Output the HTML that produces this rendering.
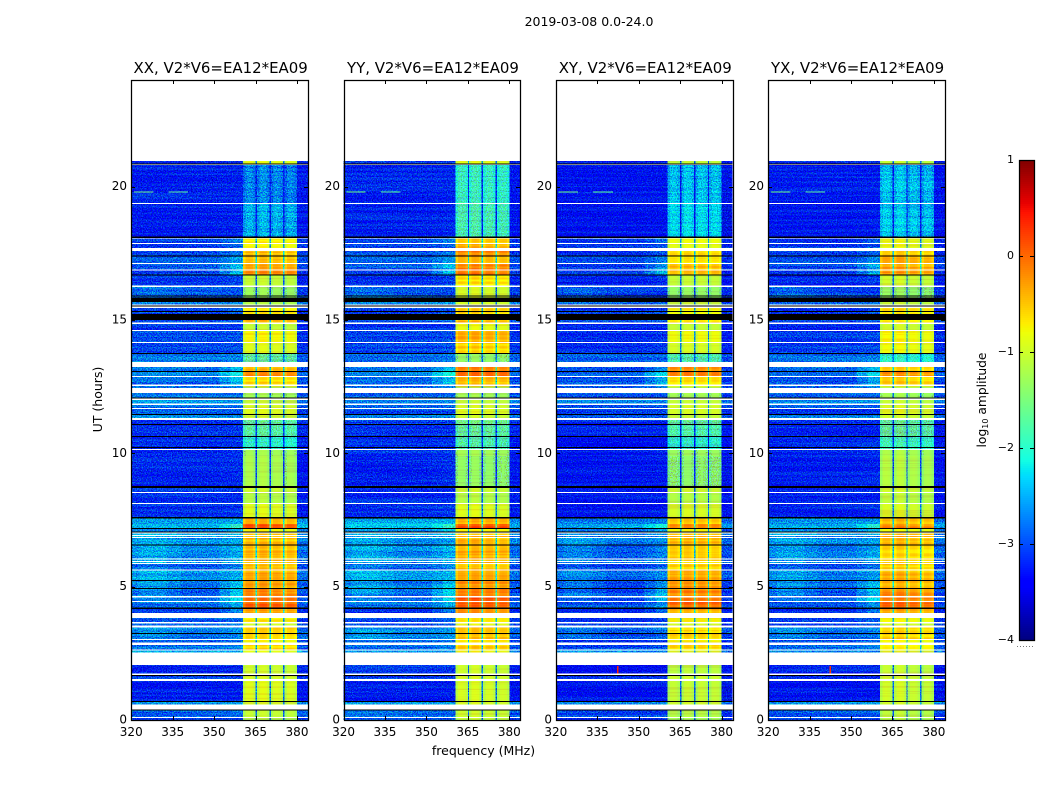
<!DOCTYPE html>
<html>
<head>
<meta charset="utf-8">
<title>2019-03-08 0.0-24.0</title>
<style>
html,body{margin:0;padding:0;background:#fff;}
svg{display:block;}
text{font-family:"DejaVu Sans","Liberation Sans",sans-serif;fill:#000;}
</style>
</head>
<body>
<svg id="chart" xmlns="http://www.w3.org/2000/svg" width="1050" height="800" viewBox="0 0 1050 800">
<defs>
<filter id="speckle" filterUnits="userSpaceOnUse" x="120" y="150" width="840" height="580" color-interpolation-filters="sRGB">
<feTurbulence type="fractalNoise" baseFrequency="0.8" numOctaves="2" seed="7" result="n"/>
<feColorMatrix in="n" type="matrix" values="0 0 0 0 0.5  3 0 0 0 -1  0 3 0 0 -1  0 0 0 0 1" result="c"/>
<feComposite in="SourceGraphic" in2="c" operator="arithmetic" k1="0" k2="1" k3="0.6" k4="-0.3" result="mixed"/>
<feComposite in="mixed" in2="SourceAlpha" operator="in"/>
</filter>
<filter id="streak" filterUnits="userSpaceOnUse" x="120" y="150" width="840" height="580" color-interpolation-filters="sRGB">
<feTurbulence type="fractalNoise" baseFrequency="0.004 0.45" numOctaves="2" seed="11" result="n"/>
<feColorMatrix in="n" type="matrix" values="0 0 0 0 0.5  3 0 0 0 -1  0 0 0 0 0.5  0 0 0 0 1" result="c"/>
<feComposite in="SourceGraphic" in2="c" operator="arithmetic" k1="0" k2="1" k3="0.2" k4="-0.1" result="mixed"/>
<feComposite in="mixed" in2="SourceAlpha" operator="in"/>
</filter>
</defs>
<text x="589" y="26" font-size="12.5" text-anchor="middle">2019-03-08 0.0-24.0</text>
<text x="483.5" y="755" font-size="12.5" text-anchor="middle">frequency (MHz)</text>
<text transform="translate(102,399.5) rotate(-90)" font-size="12.5" text-anchor="middle">UT (hours)</text>
<text transform="translate(986,400) rotate(-90)" font-size="12.3" text-anchor="middle">log<tspan font-size="8" dy="2">10</tspan><tspan dy="-2"> amplitude</tspan></text>
</svg>
<script>
// Categories
const panelTitles = ['XX, V2*V6=EA12*EA09', 'YY, V2*V6=EA12*EA09', 'XY, V2*V6=EA12*EA09', 'YX, V2*V6=EA12*EA09'];
const xTicks = [320, 335, 350, 365, 380];
const yTicks = [0, 5, 10, 15, 20];
const colorTicks = [-4, -3, -2, -1, 0, 1];

// Upper edge (UT hours) of each observed row, bottom to top
const rowTopHour = [
0.09,0.375,0.675,1.46,1.65,2.06,2.61,2.81,3.00,3.23,
3.47,3.62,3.83,4.16,4.43,4.59,4.91,5.21,5.61,5.85,
6.54,7.03,7.16,7.35,7.56,8.10,8.51,8.70,9.90,10.13,
10.61,11.06,11.25,11.44,11.66,11.81,12.00,12.26,12.51,12.86,
13.05,13.24,13.73,14.14,14.59,14.85,15.00,15.45,15.68,16.24,
16.67,16.86,17.10,17.38,17.59,17.85,18.06,19.35,20.81,20.96];

// log10 amplitude, outside the strong band
const leftLevel = [
-2.9,-2.75,-2.4,-3.15,-2.95,-3.05,-2.4,-2.7,-2.8,-2.55,
-2.45,-2.8,-2.85,-3.0,-2.7,-2.6,-2.5,-2.45,-2.35,-2.65,
-2.4,-2.35,-2.5,-2.3,-2.45,-3.05,-3.05,-3.0,-3.1,-3.05,
-3.05,-3.0,-2.95,-2.6,-2.85,-2.7,-2.5,-2.7,-2.6,-2.7,
-2.6,-2.65,-2.65,-2.9,-2.9,-3.0,-2.8,-2.9,-2.6,-2.65,
-3.0,-2.9,-2.8,-2.75,-2.9,-2.9,-2.9,-3.15,-3.1,-3.0];
const midLevel = [
-2.9,-2.75,-2.4,-3.15,-2.95,-3.05,-2.4,-2.7,-2.8,-2.7,
-2.6,-2.8,-2.85,-3.0,-2.7,-2.7,-2.75,-2.7,-2.55,-2.8,
-2.6,-2.5,-2.6,-2.3,-2.45,-3.05,-3.05,-3.0,-3.1,-3.05,
-3.05,-3.0,-2.95,-2.6,-2.85,-2.7,-2.5,-2.7,-2.6,-2.75,
-2.6,-2.7,-2.65,-2.9,-2.9,-3.0,-2.8,-2.9,-2.6,-2.8,
-3.0,-2.9,-2.8,-2.75,-2.9,-2.9,-2.9,-3.15,-3.1,-3.0];
const edgeLevel = [
-2.9,-2.75,-2.4,-3.15,-2.95,-3.05,-2.4,-2.6,-2.7,-2.6,
-2.5,-2.7,-2.75,-2.6,-2.4,-2.1,-2.2,-2.3,-2.4,-2.6,
-2.4,-2.4,-2.3,-1.8,-2.4,-3.0,-3.05,-3.0,-3.05,-3.0,
-3.0,-3.0,-2.95,-2.6,-2.85,-2.7,-2.5,-2.7,-2.5,-2.3,
-2.0,-2.3,-2.6,-2.85,-2.85,-3.0,-2.7,-2.8,-2.5,-2.85,
-2.9,-2.3,-2.35,-2.5,-2.7,-2.75,-2.65,-3.1,-3.1,-3.0];

// log10 amplitude inside the strong band, one series per polarisation
const bandXX = [
-1.1,-1.0,-0.9,-0.85,-0.9,-0.95,-0.8,-0.55,-0.7,-0.45,
-0.5,-0.9,-0.65,-0.2,0.1,0.05,-0.1,-0.2,-0.3,-0.4,
-0.35,-0.4,-0.7,0.25,-0.3,-0.85,-1.1,-0.95,-1.15,-1.2,
-1.9,-1.65,-1.6,-0.95,-0.85,-0.9,-1.0,-1.2,-1.1,-0.55,
-0.1,-0.4,-1.6,-0.85,-0.7,-1.0,-0.4,-0.6,-1.1,-1.25,
-1.0,-0.1,-0.25,-0.4,-0.35,-0.7,-0.65,-2.45,-2.65,-0.8];
const bandYY = [
-1.0,-0.95,-0.9,-0.9,-0.9,-0.95,-0.75,-0.45,-0.6,-0.35,
-0.4,-0.8,-0.6,-0.15,0.15,0.15,-0.05,-0.15,-0.25,-0.4,
-0.3,-0.35,-0.65,0.2,-0.3,-0.85,-1.1,-0.95,-1.3,-1.2,
-1.7,-1.6,-1.5,-0.95,-0.85,-0.9,-1.0,-1.2,-1.1,-0.35,
0.15,-0.05,-1.3,-0.5,-0.3,-0.8,-0.3,-0.5,-0.9,-0.9,
-0.6,0,-0.05,-0.35,-0.1,-0.3,-0.4,-1.75,-1.85,-0.8];
const bandXY = [
-1.2,-1.1,-0.95,-1.0,-0.95,-1.05,-0.85,-0.55,-0.7,-0.5,
-0.55,-0.9,-0.7,-0.3,0.05,-0.05,-0.1,-0.25,-0.3,-0.5,
-0.5,-0.35,-0.7,0,-0.5,-0.9,-1.1,-0.95,-1.35,-1.25,
-1.9,-1.7,-1.6,-1.0,-0.9,-0.9,-1.0,-1.2,-1.1,-0.55,
0.05,-0.2,-1.7,-0.9,-0.75,-1.0,-0.5,-0.7,-1.0,-1.3,
-1.0,-0.3,-0.4,-0.6,-0.5,-0.8,-0.75,-2.2,-2.35,-1.0];
const bandYX = [
-1.1,-1.05,-0.95,-0.95,-0.95,-1.0,-0.85,-0.6,-0.7,-0.5,
-0.55,-0.9,-0.7,-0.25,0.05,0,-0.15,-0.3,-0.35,-0.5,
-0.5,-0.35,-0.75,-0.1,-0.45,-0.9,-1.05,-0.95,-1.1,-1.15,
-1.8,-1.6,-1.6,-0.95,-0.85,-0.9,-1.0,-1.2,-1.1,-0.5,
-0.15,-0.4,-1.9,-0.75,-0.7,-0.95,-0.6,-0.6,-1.0,-1.3,
-0.95,-0.2,-0.25,-0.3,-0.5,-0.8,-0.8,-2.3,-2.35,-1.0];
const bandSeries = [bandXX, bandYY, bandXY, bandYX];

// Per-panel level adjustments
const panelOffShift = [-0.15, -0.15, -0.3, -0.22];
const subbandShiftXX = [-0.08, -0.05, -0.1, -0.13];
const subbandShiftYY = [-0.08, -0.05, -0.1, -0.13];
const subbandShiftXY = [-0.1, -0.06, -0.08, -0.1];
const subbandShiftYX = [-0.07, -0.04, -0.12, -0.15];
const subbandShifts = [subbandShiftXX, subbandShiftYY, subbandShiftXY, subbandShiftYX];
const subbandShape = [-0.15, 0.03, 0.05, 0.02, -0.1];
const channelGapDrop = 1.9;

// Frequency layout of the band (MHz)
const subbandStart = [360.5, 365.5, 370.5, 375.5];
const subbandEnd = [365, 370, 375, 380];

// Flagged (white) intervals, UT hours
const flagTop = [20.85,19.39,18.08,17.89,17.7,17.14,16.89,16.29,15.58,15.51,14.91,14.63,14.18,13.43,12.9,12.58,12.45,12.06,11.87,11.7,11.33,10.16,8.55,8.14,7.03,6.94,6.86,6.06,5.96,5.89,5.64,4.65,4.46,4.01,3.68,3.54,3.04,2.91,2.64,2.53,1.74,1.54,0.58,0.11];
const flagBottom = [20.81,19.35,18.06,17.85,17.59,17.10,16.86,16.24,15.54,15.45,14.85,14.59,14.14,13.24,12.86,12.53,12.26,12.0,11.81,11.66,11.25,10.13,8.51,8.10,6.99,6.90,6.83,6.02,5.93,5.85,5.61,4.59,4.43,3.83,3.62,3.47,3.0,2.81,2.61,2.06,1.69,1.46,0.39,0.075];

// Zero-amplitude (black) intervals, UT hours
const zeroTop = [20.87,18.14,17.42,16.71,15.92,15.84,15.54,15.34,15.22,13.76,13.09,12.09,11.47,11.1,10.65,10.24,8.78,7.61,7.2,7.07,6.58,5.25,4.95,4.22,3.26,1.69,0.71,0.39];
const zeroBottom = [20.85,18.08,17.38,16.67,15.88,15.68,15.51,15.3,15.0,13.73,13.05,12.06,11.44,11.06,10.61,10.2,8.7,7.56,7.16,7.03,6.54,5.21,4.91,4.16,3.23,1.65,0.675,0.36];

// Narrow interference features
const rfiLineStart = [321, 333.5];
const rfiLineEnd = [328, 340.6];
const rfiLineHour = [19.8, 19.8];
const rfiLineLevel = [-1.6, -1.7];
const rfiDotPanel = [2, 3];
const rfiDotFreq = [342.4, 342.4];
const rfiDotHour = [1.87, 1.87];
const rfiDotLevel = [0.4, 0.3];

const svg = document.getElementById('chart');
const NS = 'http://www.w3.org/2000/svg';
const axesLeft = [131.25, 343.55, 555.85, 768.15];
const axesWidth = 176.8, axesTop = 80, axesBottom = 720;
const speckleBelow = -1.4;

function make(tag, attrs, parent) {
  const el = document.createElementNS(NS, tag);
  for (const k in attrs) el.setAttribute(k, attrs[k]);
  parent.appendChild(el);
  return el;
}
function xScale(p, f) { return axesLeft[p] + (f - 320) * axesWidth / 64; }
function yScale(h) { return axesBottom - h * (axesBottom - axesTop) / 24; }
function lerpStops(t, s) {
  for (let i = 1; i < s.length; i++) {
    if (t <= s[i][0]) return s[i-1][1] + (s[i][1]-s[i-1][1]) * (t-s[i-1][0]) / (s[i][0]-s[i-1][0]);
  }
  return s[s.length-1][1];
}
const jetR = [[0,0],[0.35,0],[0.66,1],[0.89,1],[1,0.5]];
const jetG = [[0,0],[0.125,0],[0.375,1],[0.64,1],[0.91,0],[1,0]];
const jetB = [[0,0.5],[0.11,1],[0.34,1],[0.65,0],[1,0]];
function colorOf(v) {
  const t = Math.max(0, Math.min(1, (v + 4) / 5));
  return 'rgb(' + Math.round(255*lerpStops(t,jetR)) + ',' + Math.round(255*lerpStops(t,jetG)) + ',' + Math.round(255*lerpStops(t,jetB)) + ')';
}

function addCell(p, groups, f0, f1, h0, h1, v) {
  const x0 = xScale(p, f0), x1 = xScale(p, f1), y0 = yScale(h1), y1 = yScale(h0);
  const g = v < speckleBelow ? groups.noisy : groups.smooth;
  const r = make('rect', {x: x0, y: y0, width: x1 - x0, height: y1 - y0, fill: colorOf(v)}, g);
  
  
}

function addLabel(x, y, txt, anchor, size, name) {
  const t = make('text', {x: x, y: y, 'font-size': size, 'text-anchor': anchor}, svg);
  t.textContent = txt;
  
  
}

panelTitles.forEach(function (title, p) {
  const panel = make('g', {'shape-rendering': 'crispEdges'}, svg);
  
  
  const heat = make('g', {filter: 'url(#streak)'}, panel);
  
  
  const smooth = make('g', {}, heat);
  
  
  const noisy = make('g', {filter: 'url(#speckle)'}, heat);
  
  
  const groups = {smooth: smooth, noisy: noisy};
  const shift = panelOffShift[p];
  const band = bandSeries[p];
  const sub = subbandShifts[p];

  rowTopHour.forEach(function (top, i) {
    const bottom = i === 0 ? 0 : rowTopHour[i - 1];
    const left = leftLevel[i] + shift, mid = midLevel[i] + shift, edge = edgeLevel[i] + shift;
    addCell(p, groups, 320, 323, bottom, top, (mid + left) / 2);
    addCell(p, groups, 323, 333, bottom, top, left);
    addCell(p, groups, 333, 338, bottom, top, (mid + left) / 2);
    addCell(p, groups, 338, 352, bottom, top, mid);
    addCell(p, groups, 352, 356, bottom, top, (mid + edge) / 2);
    addCell(p, groups, 356, 360.5, bottom, top, edge);
    subbandStart.forEach(function (fs, s) {
      const fe = subbandEnd[s];
      const w = (fe - fs) / subbandShape.length;
      subbandShape.forEach(function (dv, c) {
        addCell(p, groups, fs + c * w, fs + (c + 1) * w, bottom, top, band[i] + sub[s] + dv);
      });
      if (s < subbandStart.length - 1) {
        addCell(p, groups, fe, subbandStart[s + 1], bottom, top, Math.max(band[i] - channelGapDrop, mid));
      }
    });
    addCell(p, groups, 380, 384, bottom, top, mid - 0.1);
  });

  rfiLineStart.forEach(function (fs, i) {
    const r = make('rect', {x: xScale(p, fs), y: yScale(rfiLineHour[i]) - 0.5, width: xScale(p, rfiLineEnd[i]) - xScale(p, fs), height: 1, fill: colorOf(rfiLineLevel[i])}, panel);
    
    
  });
  rfiDotPanel.forEach(function (dp, i) {
    if (dp !== p) return;
    const r = make('rect', {x: xScale(p, rfiDotFreq[i]) - 0.5, y: yScale(rfiDotHour[i]) - 4, width: 1.4, height: 8, fill: colorOf(rfiDotLevel[i])}, panel);
    
    
  });

  flagTop.forEach(function (top, i) {
    const r = make('rect', {x: xScale(p, 320), y: yScale(top), width: axesWidth, height: yScale(flagBottom[i]) - yScale(top), fill: '#fff'}, panel);
    
    
  });
  zeroTop.forEach(function (top, i) {
    const r = make('rect', {x: xScale(p, 320), y: yScale(top), width: axesWidth, height: Math.max(1, yScale(zeroBottom[i]) - yScale(top)), fill: '#000'}, panel);
    
    
  });

  const frameL = Math.round(axesLeft[p]), frameR = Math.round(axesLeft[p] + axesWidth);
  const frame = make('rect', {x: frameL + 0.5, y: axesTop + 0.5, width: frameR - frameL, height: axesBottom - axesTop, fill: 'none', stroke: '#000', 'stroke-width': 1.25, 'shape-rendering': 'geometricPrecision'}, panel);
  
  

  xTicks.forEach(function (f) {
    const x = Math.round(xScale(p, f)) + 0.5;
    const b = make('line', {x1: x, x2: x, y1: axesBottom, y2: axesBottom - 4, stroke: '#000'}, panel);
    
    
    const t = make('line', {x1: x, x2: x, y1: axesTop, y2: axesTop + 4, stroke: '#000'}, panel);
    
    
    addLabel(xScale(p, f), 736, String(f), 'middle', 12, 'x-tick-label');
  });
  yTicks.forEach(function (h) {
    const y = Math.round(yScale(h)) + 0.5;
    const l = make('line', {x1: frameL, x2: frameL + 4, y1: y, y2: y, stroke: '#000'}, panel);
    
    
    const r = make('line', {x1: frameR, x2: frameR - 4, y1: y, y2: y, stroke: '#000'}, panel);
    
    
    addLabel(frameL - 4, yScale(h) + 3.5, String(h), 'end', 12, 'y-tick-label');
  });
  addLabel(axesLeft[p] + axesWidth / 2 + 1, 73, title, 'middle', 14.95, 'panel-title');
});

// Colour bar
const cbLeft = 1019, cbWidth = 15, cbTop = 160, cbBottom = 640;
function cbY(v) { return cbBottom - (v + 4) * (cbBottom - cbTop) / 5; }
const cbGroup = make('g', {'shape-rendering': 'crispEdges'}, svg);


for (let k = 0; k < 240; k++) {
  const vLow = -4 + 5 * k / 240, vHigh = -4 + 5 * (k + 1) / 240;
  const r = make('rect', {x: cbLeft, y: cbY(vHigh), width: cbWidth, height: cbY(vLow) - cbY(vHigh), fill: colorOf((vLow + vHigh) / 2)}, cbGroup);
  
  
}
const cbFrame = make('rect', {x: cbLeft + 0.5, y: cbTop + 0.5, width: cbWidth, height: cbBottom - cbTop, fill: 'none', stroke: '#000', 'stroke-width': 1.25, 'shape-rendering': 'geometricPrecision'}, cbGroup);


colorTicks.forEach(function (v) {
  const y = Math.round(cbY(v)) + 0.5;
  const a = make('line', {x1: cbLeft, x2: cbLeft + 4, y1: y, y2: y, stroke: '#000'}, cbGroup);
  
  
  const b = make('line', {x1: cbLeft + cbWidth, x2: cbLeft + cbWidth - 4, y1: y, y2: y, stroke: '#000'}, cbGroup);
  
  
  addLabel(cbLeft - 5, cbY(v) + 3, String(v).replace('-', '\u2212'), 'end', 11, 'colorbar-tick-label');
});
const cbDots = make('line', {x1: cbLeft - 2, x2: cbLeft + cbWidth + 1, y1: 646.5, y2: 646.5, stroke: '#777', 'stroke-width': 1, 'stroke-dasharray': '1 2'}, svg);


</script>
</body>
</html>
